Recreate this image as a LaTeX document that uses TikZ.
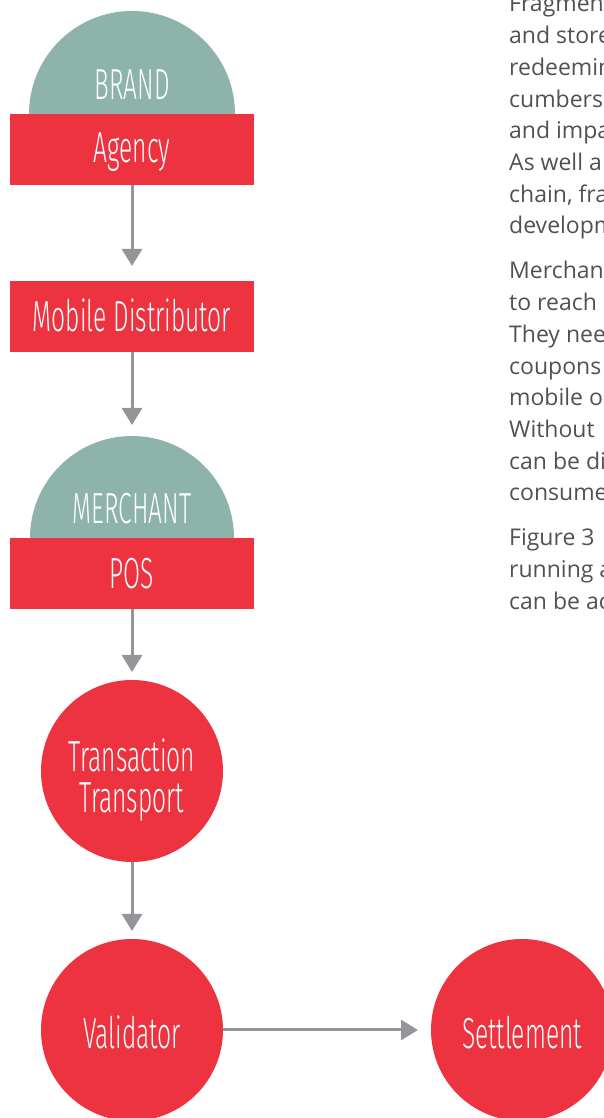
\documentclass[tikz,border=0pt]{standalone}
\usepackage{fontspec}
\setmainfont{Open Sans}
\newfontfamily\condfont[FakeStretch=0.565]{Fira Sans Light}
\usetikzlibrary{arrows.meta}
\definecolor{brandred}{HTML}{EE3340}
\definecolor{tealgrey}{HTML}{8DB3AB}
\definecolor{arrowgray}{HTML}{939598}
\definecolor{textgray}{HTML}{505153}
\begin{document}
\begin{tikzpicture}[x=1pt,y=1pt,
  redbox/.style={fill=brandred, minimum width=244pt, minimum height=71pt, inner sep=0pt, outer sep=0pt},
  redcircle/.style={circle, fill=brandred, minimum size=182pt, inner sep=0pt, outer sep=0pt},
  lbl/.style={text=white, font=\condfont\fontsize{43.5}{43.5}\selectfont, anchor=base, inner sep=0pt},
  arr/.style={draw=arrowgray, line width=3pt, -{Triangle[width=20pt,length=17pt]}},
  body/.style={text=textgray, font=\fontsize{23}{23}\selectfont, anchor=base west, inner sep=0pt}]
\clip (0,0) rectangle (604,1118);
% BRAND / Agency
\fill[tealgrey] (29,1004) arc[start angle=180, end angle=0, radius=103] -- cycle;
\node[redbox] (agency) at (132,968.5) {};
\node[lbl] (brandT) at (132,1018) {BRAND};
\node[lbl] (agencyT) at (132,955) {Agency};
% Mobile Distributor
\node[redbox] (mobile) at (132,801.5) {};
\node[lbl] (mobileT) at (132,786) {Mobile Distributor};
% MERCHANT / POS
\fill[tealgrey] (30,580) arc[start angle=180, end angle=0, radius=102] -- cycle;
\coordinate (mtop) at (132,682);
\node[redbox] (pos) at (132,544.5) {};
\node[lbl] (merchantT) at (132,594) {MERCHANT};
\node[lbl] (posT) at (132,529) {POS};
% Transaction Transport
\node[redcircle] (tt) at (132,347) {};
\node[lbl] (ttA) at (132,346) {Transaction};
\node[lbl] (ttB) at (132,305) {Transport};
% Validator / Settlement
\node[redcircle] (val) at (132,88) {};
\node[lbl] (valT) at (132,69) {Validator};
\node[redcircle] (set) at (522,88) {};
\node[lbl] (setT) at (522,69) {Settlement};
% arrows
\draw[arr, shorten >=15pt] (agency.south) -- (mobile.north);
\draw[arr, shorten >=11pt] (mobile.south) -- (mtop);
\draw[arr, shorten >=8pt] (pos.south) -- (tt.north);
\draw[arr, shorten >=8pt] (tt.south) -- (val.north);
\draw[arr, shorten >=13pt] (val.east) -- (set.west);
% body text (cut at the right edge)
\foreach \t [count=\i] in {Fragment, and store, redeemin, cumbers, and impa, As well a, {chain, fra}, developm}
  \node[body] (pa\i) at (509,{1106-31.7*(\i-1)}) {\t};
\foreach \t [count=\i] in {Merchant, to reach, They nee, coupons, mobile o, Without, can be di, consume}
  \node[body] (pb\i) at (509,{839-31.7*(\i-1)}) {\t};
\foreach \t [count=\i] in {Figure 3, running a, can be ac}
  \node[body] (pc\i) at (509,{572-31.7*(\i-1)}) {\t};
\end{tikzpicture}
\end{document}
